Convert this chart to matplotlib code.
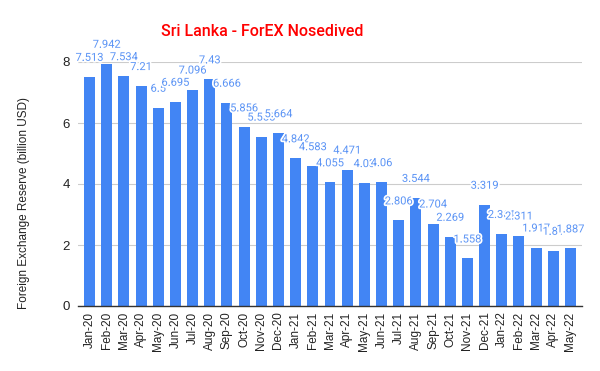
import matplotlib
matplotlib.use("Agg")
import matplotlib.pyplot as plt
import matplotlib.patheffects as pe

months = ["Jan-20", "Feb-20", "Mar-20", "Apr-20", "May-20", "Jun-20", "Jul-20", "Aug-20",
          "Sep-20", "Oct-20", "Nov-20", "Dec-20", "Jan-21", "Feb-21", "Mar-21", "Apr-21",
          "May-21", "Jun-21", "Jul-21", "Aug-21", "Sep-21", "Oct-21", "Nov-21", "Dec-21",
          "Jan-22", "Feb-22", "Mar-22", "Apr-22", "May-22"]
reserves = [7.513, 7.942, 7.534, 7.21, 6.5, 6.695, 7.096, 7.43,
            6.666, 5.856, 5.555, 5.664, 4.842, 4.583, 4.055, 4.471,
            4.03, 4.06, 2.806, 3.544, 2.704, 2.269, 1.558, 3.319,
            2.361, 2.311, 1.917, 1.81, 1.887]
yticks = [0, 2, 4, 6, 8]

BLUE = "#4285F4"
plt.rcParams["font.family"] = ["Liberation Sans", "DejaVu Sans"]

fig = plt.figure(figsize=(6, 3.71), dpi=100)
ax = fig.add_axes([78/600, 1-306/371, 504/600, 244/371])

x = list(range(len(months)))
ax.bar(x, reserves, width=0.64, color=BLUE, zorder=2)
for xi, v in zip(x, reserves):
    ax.annotate(f"{v:g}", (xi, v), xytext=(0, 13.7), textcoords="offset points",
                ha="center", va="center", fontsize=8, color="#5a93f5",
                family=["Roboto", "DejaVu Sans"], zorder=3,
                path_effects=[pe.withStroke(linewidth=2.5, foreground="white")])

ax.set_xlim(-0.67, len(months) - 1 + 0.67)
ax.set_ylim(0, 8)
ax.set_yticks(yticks)
ax.set_yticklabels([str(t) for t in yticks], fontsize=9.5, color="#222222")
ax.set_xticks(x)
ax.set_xticklabels(months, rotation=90, fontsize=8.5, color="#222222")
ax.tick_params(axis="both", length=0)
ax.tick_params(axis="y", pad=6)
ax.tick_params(axis="x", pad=4)
ax.grid(axis="y", color="#cccccc", linewidth=0.8, zorder=0)
for s in ["top", "right", "left"]:
    ax.spines[s].set_visible(False)
ax.spines["bottom"].set_color("#333333")
ax.spines["bottom"].set_linewidth(1.0)
ax.spines["bottom"].set_zorder(4)

ax.set_ylabel("Foreign Exchange Reserve (billion USD)", fontsize=8.5, color="#222222")
ax.yaxis.set_label_coords(-48/504, (306-203)/244)

fig.text(262/600, 1-32/371, "Sri Lanka - ForEX Nosedived", ha="center", va="center",
         fontsize=11.5, color="#ff0000", weight="medium", family=["Roboto", "DejaVu Sans"])

fig.savefig("out.png", dpi=100)
